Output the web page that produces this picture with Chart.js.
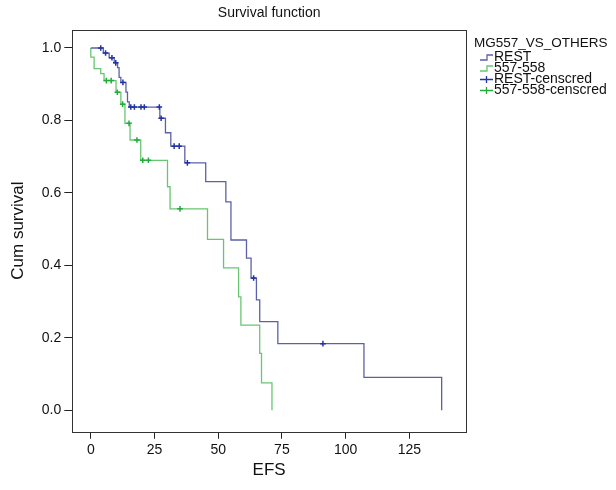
<!DOCTYPE html>
<html>
<head>
<meta charset="utf-8">
<script src="https://cdn.jsdelivr.net/npm/chart.js@4/dist/chart.umd.min.js"></script>
<style>
    body { margin: 0; background: #fff; }
    .chart-box { width: 616px; height: 490px; }
</style>
</head>
<body>
<div class="chart-box"><canvas class="chart-area" width="616" height="490"></canvas></div>
<script>
/**
 * 数据
 */
//REST 曲线（时间 / 累积生存率）
var restTime = [0, 4.9, 7.2, 9.2, 10.5, 11.1, 11.8, 13.8, 14.4, 15.1, 27.1, 29.3, 31.4, 36.9, 45.1, 53.0, 55.0, 61.1, 62.9, 65.0, 66.3, 73.4, 107.2, 137.7];
var restSurv = [1.0, 0.986, 0.973, 0.959, 0.946, 0.919, 0.905, 0.878, 0.851, 0.837, 0.806, 0.766, 0.729, 0.683, 0.631, 0.575, 0.470, 0.420, 0.365, 0.305, 0.245, 0.184, 0.091, 0];
//REST 删失点
var restCensTime = [3.9, 5.8, 8.3, 9.8, 12.6, 15.7, 17.1, 19.7, 21.0, 26.9, 27.6, 32.7, 34.7, 37.9, 63.9, 91.1];
var restCensSurv = [1.0, 0.986, 0.973, 0.959, 0.905, 0.837, 0.837, 0.837, 0.837, 0.837, 0.806, 0.729, 0.729, 0.683, 0.365, 0.184];

//557-558 曲线
var grpTime = [0, 0, 1.3, 3.9, 5.2, 9.9, 11.8, 13.4, 15.4, 19.6, 30.1, 31.1, 45.8, 52.1, 58.0, 58.9, 66.3, 67.0, 71.1];
var grpSurv = [1.0, 0.975, 0.943, 0.929, 0.910, 0.878, 0.845, 0.792, 0.746, 0.690, 0.617, 0.556, 0.472, 0.393, 0.313, 0.235, 0.157, 0.076, 0];
//557-558 删失点
var grpCensTime = [6.1, 8.0, 10.4, 12.5, 15.0, 18.1, 20.4, 22.6, 35.0];
var grpCensSurv = [0.910, 0.910, 0.878, 0.845, 0.792, 0.746, 0.690, 0.690, 0.556];

//刻度
var xTicks = [0, 25, 50, 75, 100, 125];
var yTicks = [0, 0.2, 0.4, 0.6, 0.8, 1.0];

var seriesNames = ['REST', '557-558', 'REST-censcred', '557-558-censcred'];

function toPoints(xs, ys) {
    return xs.map(function (x, i) { return {x: x, y: ys[i]}; });
}

var blueLine = 'rgb(92, 96, 168)';
var greenLine = 'rgb(104, 198, 114)';
var blueMark = 'rgb(32, 52, 165)';
var greenMark = 'rgb(34, 172, 60)';

Chart.defaults.font.family = "'Liberation Sans', Arial, sans-serif";
Chart.defaults.color = '#111';

/**
 * 标题、边框、图例
 */
var decorPlugin = {
    id: 'decor',
    beforeDatasetsDraw: function (chart) {
        var ctx = chart.ctx, a = chart.chartArea;
        ctx.save();
        ctx.strokeStyle = '#333';
        ctx.lineWidth = 1;
        ctx.strokeRect(Math.round(a.left) + 0.5, Math.round(a.top) + 0.5,
            Math.round(a.right - a.left), Math.round(a.bottom - a.top));
        ctx.restore();
    },
    afterDraw: function (chart) {
        var ctx = chart.ctx, a = chart.chartArea;
        ctx.save();
        //标题
        ctx.fillStyle = '#111';
        ctx.font = "14px 'Liberation Sans', Arial, sans-serif";
        ctx.textAlign = 'center';
        ctx.textBaseline = 'middle';
        ctx.fillText('Survival function', (a.left + a.right) / 2, 13);

        //图例
        var lx = a.right + 8;
        ctx.textAlign = 'left';
        ctx.font = "13.5px 'Liberation Sans', Arial, sans-serif";
        ctx.fillText('MG557_VS_OTHERS', lx, 43);
        ctx.font = "14px 'Liberation Sans', Arial, sans-serif";
        chart.data.datasets.forEach(function (ds, i) {
            var y = 57.5 + i * 11;
            var ix = lx + 6;
            ctx.strokeStyle = ds.borderColor;
            ctx.lineWidth = 1.3;
            ctx.beginPath();
            if (ds.showLine) {
                ctx.moveTo(ix, y + 2.5);
                ctx.lineTo(ix + 7, y + 2.5);
                ctx.lineTo(ix + 7, y - 2.5);
                ctx.lineTo(ix + 13, y - 2.5);
            } else {
                ctx.moveTo(ix, y);
                ctx.lineTo(ix + 13, y);
                ctx.moveTo(ix + 6.5, y - 3.5);
                ctx.lineTo(ix + 6.5, y + 3.5);
            }
            ctx.stroke();
            ctx.fillStyle = '#111';
            ctx.fillText(ds.label, ix + 14, y);
        });
        ctx.restore();
    }
};

/**
 * 生存曲线
 */
var ctx = document.querySelector('.chart-area').getContext('2d');
window.myChart = new Chart(ctx, {
    type: 'scatter',
    data: {
        datasets: [{
            label: seriesNames[0],
            data: toPoints(restTime, restSurv),
            showLine: true,
            stepped: 'before',
            borderColor: blueLine,
            borderWidth: 1.3,
            pointRadius: 0,
            order: 1
        }, {
            label: seriesNames[1],
            data: toPoints(grpTime, grpSurv),
            showLine: true,
            stepped: 'before',
            borderColor: greenLine,
            borderWidth: 1.3,
            pointRadius: 0,
            order: 1
        }, {
            label: seriesNames[2],
            data: toPoints(restCensTime, restCensSurv),
            showLine: false,
            pointStyle: 'cross',
            pointRadius: 2.8,
            borderColor: blueMark,
            pointBorderWidth: 1.5,
            order: 0
        }, {
            label: seriesNames[3],
            data: toPoints(grpCensTime, grpCensSurv),
            showLine: false,
            pointStyle: 'cross',
            pointRadius: 2.8,
            borderColor: greenMark,
            pointBorderWidth: 1.5,
            order: 0
        }]
    },
    options: {
        responsive: false,
        animation: false,
        devicePixelRatio: 1,
        layout: {
            padding: {top: 29.5, right: 150, bottom: 0, left: 0}
        },
        plugins: {
            legend: {display: false},
            title: {display: false},
            tooltip: {enabled: false}
        },
        scales: {
            x: {
                type: 'linear',
                min: -7.26,
                max: 147.25,
                afterBuildTicks: function (scale) {
                    scale.ticks = xTicks.map(function (v) { return {value: v}; });
                },
                afterFit: function (scale) { scale.height = 58.3; },
                grid: {drawOnChartArea: false, drawTicks: true, tickLength: 7, color: '#222'},
                border: {display: false},
                ticks: {padding: 3, font: {size: 14}, color: '#111', maxRotation: 0},
                title: {display: true, text: 'EFS', font: {size: 17}, color: '#111', padding: {top: 0, bottom: 9.8}}
            },
            y: {
                type: 'linear',
                min: -0.059,
                max: 1.051,
                afterBuildTicks: function (scale) {
                    scale.ticks = yTicks.map(function (v) { return {value: v}; });
                },
                afterFit: function (scale) { scale.width = 72.3; },
                grid: {drawOnChartArea: false, drawTicks: true, tickLength: 8, color: '#222'},
                border: {display: false},
                ticks: {
                    padding: 3,
                    font: {size: 14},
                    color: '#111',
                    callback: function (v) { return v.toFixed(1); }
                },
                title: {display: true, text: 'Cum survival', font: {size: 17}, color: '#111', padding: {top: 7.8, bottom: 0}}
            }
        }
    },
    plugins: [decorPlugin]
});
</script>
</body>
</html>
